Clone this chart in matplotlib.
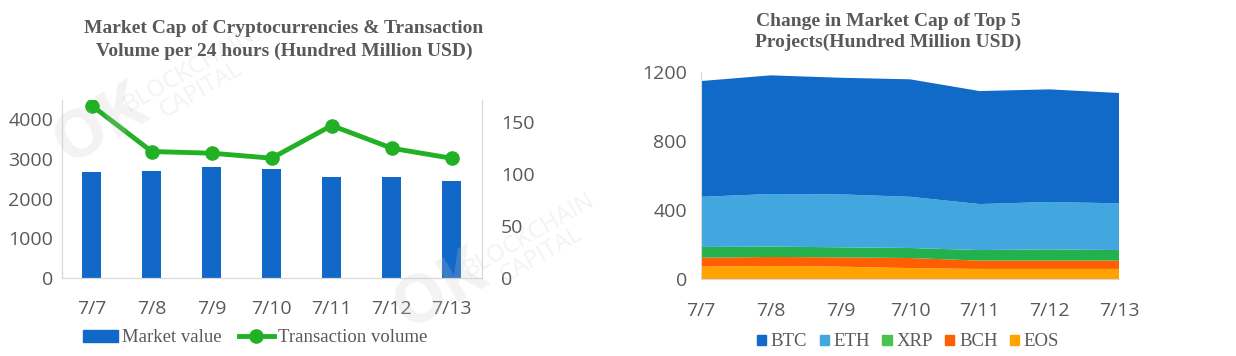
import numpy as np
import matplotlib.pyplot as plt
from matplotlib.lines import Line2D
from matplotlib.patches import Patch

# data
dates = ['7/7', '7/8', '7/9', '7/10', '7/11', '7/12', '7/13']
market_value = [2670, 2690, 2800, 2750, 2545, 2545, 2450]
tx_volume = [165.7, 121.5, 119.9, 115.1, 146.5, 124.7, 115.0]

btc = [669, 686, 674, 679, 653, 651, 638]
eth = [290, 304, 306, 296, 266, 274, 270]
xrp = [62, 60, 58, 58, 61, 65, 61]
bch = [52, 52, 54, 58, 48, 48, 48]
eos = [73, 77, 73, 65, 60, 60, 60]
coin_names = ['BTC', 'ETH', 'XRP', 'BCH', 'EOS']

blue = '#1268C8'
green = '#22B024'
gray_txt = '#595959'
spine_c = '#D9D9D9'
serif = 'Liberation Serif'
sans = 'Open Sans'

fig = plt.figure(figsize=(12.36, 3.56), dpi=100)
W, H = 1236, 356

def box(x0, x1, ybot, ytop):
    return [x0 / W, 1 - ybot / H, (x1 - x0) / W, (ybot - ytop) / H]

# faint watermarks (behind everything)
wm = dict(color='#C8C8C8', alpha=0.22, rotation=30, ha='center', va='center', zorder=0)
for (px, py) in [(140, 105), (480, 270)]:
    fig.text((px - 40) / W, 1 - (py + 20) / H, 'OK', fontsize=48, fontweight='bold', family=sans, **wm)
    fig.text((px + 55) / W, 1 - (py - 25) / H, 'BLOCKCHAIN\nCAPITAL', fontsize=17, family=sans,
             linespacing=0.9, **wm)

# ---- left chart: bars + line on twin axis
ax1 = fig.add_axes(box(61.7, 481.7, 278, 100))
ax1.patch.set_alpha(0)
x = np.arange(len(dates))
ax1.bar(x, market_value, width=0.31, color=blue, zorder=2)
ax1.set_xlim(-0.5, 6.5)
ax1.set_ylim(0, 4480)
ax1.set_yticks([0, 1000, 2000, 3000, 4000])
ax1.set_xticks(x)
ax1.set_xticklabels(dates)
ax2 = ax1.twinx()
ax2.plot(x, tx_volume, color=green, lw=3.5, marker='o', ms=9.5, zorder=3)
ax2.set_ylim(0, 171)
ax2.set_yticks([0, 50, 100, 150])

for a in (ax1, ax2):
    a.spines['top'].set_visible(False)
    for s in ['left', 'right', 'bottom']:
        a.spines[s].set_color(spine_c)
    a.tick_params(length=0, labelsize=14, labelcolor=gray_txt, pad=6)
    for lab in a.get_xticklabels() + a.get_yticklabels():
        lab.set_fontfamily(sans)
ax1.tick_params(axis='x', pad=16)
ax2.tick_params(axis='y', pad=14)

fig.text(284 / W, 1 - 40 / H,
         'Market Cap of Cryptocurrencies & Transaction\nVolume per 24 hours (Hundred Million USD)',
         ha='center', va='center', fontsize=14, fontweight='bold', family=serif,
         color=gray_txt, linespacing=1.4)

fig.legend(handles=[Patch(color=blue, label='Market value'),
                    Line2D([], [], color=green, lw=3.5, marker='o', ms=9.5, label='Transaction volume')],
           loc='center', bbox_to_anchor=(255 / W, 1 - 338 / H), ncol=2, frameon=False,
           prop={'family': serif, 'size': 13.5}, handlelength=1.9, handleheight=0.55,
           handletextpad=0.2, columnspacing=0.9, labelcolor=gray_txt)

# ---- right chart: stacked area
ax3 = fig.add_axes(box(701, 1119, 279.3, 71.7))
ax3.patch.set_alpha(0)
ax3.stackplot(x, eos, bch, xrp, eth, btc,
              colors=['#FFA300', '#FF5F00', '#22B14C', '#42A7DF', '#116AC8'], lw=0)
ax3.set_xlim(0, 6)
ax3.set_ylim(0, 1200)
ax3.set_yticks([0, 400, 800, 1200])
ax3.set_xticks(x)
ax3.set_xticklabels(dates)
ax3.spines['top'].set_visible(False)
ax3.spines['right'].set_visible(False)
ax3.spines['left'].set_color(spine_c)
ax3.spines['bottom'].set_color(spine_c)
ax3.tick_params(length=0, labelsize=14, labelcolor=gray_txt, pad=10)
ax3.tick_params(axis='x', pad=16)
for lab in ax3.get_xticklabels() + ax3.get_yticklabels():
    lab.set_fontfamily(sans)

fig.text(888 / W, 1 - 32 / H, 'Change in Market Cap of Top 5\nProjects(Hundred Million USD)',
         ha='center', va='center', fontsize=14, fontweight='bold', family=serif,
         color=gray_txt, linespacing=1.25)

leg_cols = ['#116AC8', '#42A7DF', '#4CC24E', '#FF5F00', '#FFA300']
fig.legend(handles=[Patch(color=c, label=n) for c, n in zip(leg_cols, coin_names)],
           loc='center', bbox_to_anchor=(908 / W, 1 - 342 / H), ncol=5, frameon=False,
           prop={'family': serif, 'size': 13.5}, handlelength=0.5, handleheight=0.5,
           handletextpad=0.25, columnspacing=0.65, labelcolor=gray_txt)

fig.savefig('out.png', dpi=100)
